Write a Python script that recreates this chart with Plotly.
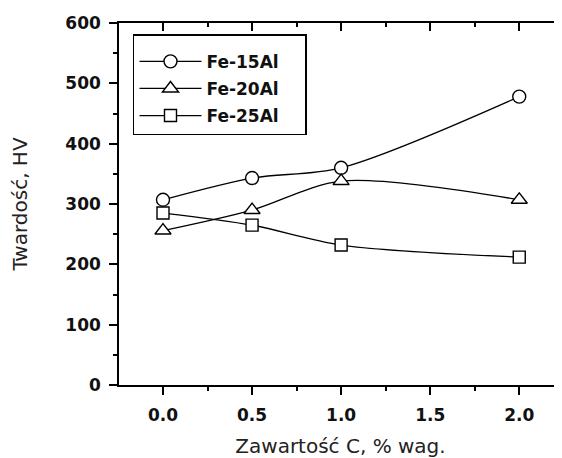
import plotly.graph_objects as go

carbon = [0.0, 0.5, 1.0, 2.0]
fe15al = [307, 343, 360, 478]
fe20al = [256, 290, 338, 307]
fe25al = [285, 265, 232, 212]
series_names = ["Fe-15Al", "Fe-20Al", "Fe-25Al"]
x_ticks = [0.0, 0.5, 1.0, 1.5, 2.0]
x_tick_text = ["0.0", "0.5", "1.0", "1.5", "2.0"]
y_ticks = [0, 100, 200, 300, 400, 500, 600]

# page body adds an 8px offset; margins compensate for it
W, H = 562, 450
L, R, T, B = 111, 8, 15, 73
xr = [-0.247, 2.24]
yr = [0, 600]

tick_font = dict(family="DejaVu Sans", size=17, color="#111", weight="bold")
title_font = dict(family="DejaVu Sans", size=20, color="#222")

fig = go.Figure()
symbols = ["circle", "triangle-up", "square"]
sizes = [13, 14, 12]
for name, vals, sym, sz in zip(series_names, [fe15al, fe20al, fe25al], symbols, sizes):
    fig.add_trace(go.Scatter(
        x=carbon, y=vals, name=name, mode="lines+markers",
        line=dict(color="black", width=1.3, shape="spline", smoothing=0.85),
        marker=dict(symbol=sym, size=sz, color="white", line=dict(color="black", width=1.4)),
        legendgroup=name,
    ))

# helper trace for mirrored top/right axes
fig.add_trace(go.Scatter(x=[None], y=[None], xaxis="x2", yaxis="y2",
                         showlegend=False, hoverinfo="skip"))

axis_common = dict(showgrid=False, zeroline=False, linecolor="black", linewidth=1.5,
                   tickcolor="black", tickwidth=1.5, automargin=False)

fig.update_layout(
    width=W, height=H,
    margin=dict(l=L, r=R, t=T, b=B, autoexpand=False),
    paper_bgcolor="white", plot_bgcolor="white",
    xaxis=dict(range=xr, tickvals=x_ticks, ticktext=x_tick_text, ticks="outside", ticklen=8,
               showline=True, tickfont=tick_font, ticklabelstandoff=6,
               minor=dict(dtick=0.25, tick0=0, ticks="outside", ticklen=4, tickcolor="black", tickwidth=1.5),
               title=dict(text="Zawartość C, % wag.", font=title_font, standoff=16),
               **axis_common),
    yaxis=dict(range=yr, tickvals=y_ticks, ticks="outside", ticklen=8, showline=True,
               tickfont=tick_font, ticklabelstandoff=5,
               minor=dict(dtick=50, tick0=0, ticks="outside", ticklen=4, tickcolor="black", tickwidth=1.5),
               title=dict(text="Twardość, HV", font=title_font, standoff=32),
               **axis_common),
    xaxis2=dict(range=xr, overlaying="x", side="top", anchor="y2", tickvals=x_ticks, ticks="inside",
                ticklen=8, showline=True, showticklabels=False,
                minor=dict(dtick=0.25, tick0=0, ticks="inside", ticklen=4, tickcolor="black", tickwidth=1.5),
                **axis_common),
    yaxis2=dict(range=yr, overlaying="y", side="right", anchor="x2", tickvals=y_ticks, ticks="inside",
                ticklen=6, showline=False, showticklabels=False,
                minor=dict(dtick=50, tick0=0, ticks="inside", ticklen=4, tickcolor="black", tickwidth=1.5),
                **axis_common),
    legend=dict(x=0.0316, y=0.9696, xanchor="left", yanchor="top",
                bordercolor="black", borderwidth=1.5, bgcolor="white",
                font=dict(family="DejaVu Sans", size=17, color="#111", weight="bold"),
                title=dict(text="&nbsp;" * 150 + "<br>&nbsp;", font=dict(family="DejaVu Sans", size=3.2)),
                itemwidth=62, tracegroupgap=2),
    showlegend=True,
)

fig.write_html("out.html")
